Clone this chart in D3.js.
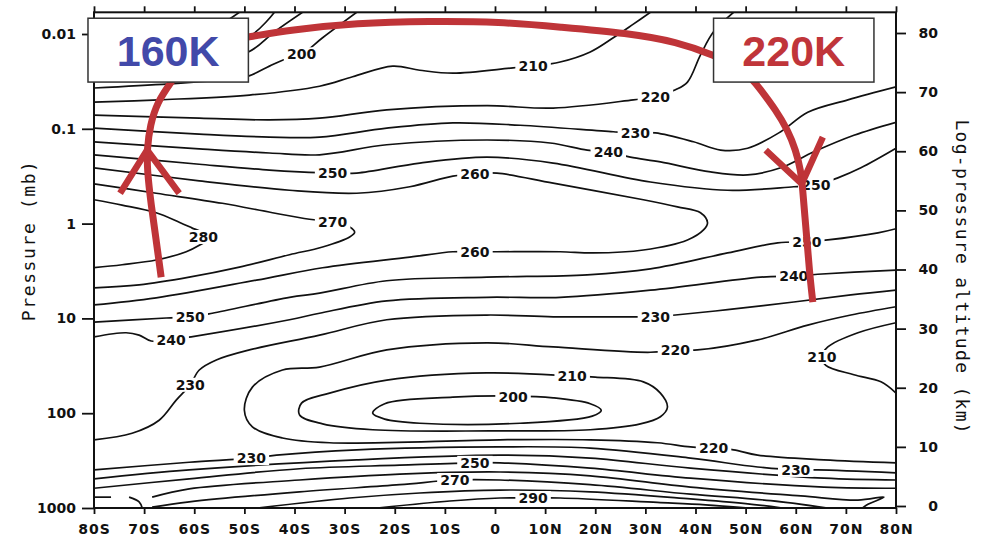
<!DOCTYPE html>
<html>
<head>
<meta charset="utf-8">
<script src="https://cdn.jsdelivr.net/npm/d3@7"></script>
<style>
  html, body { margin: 0; padding: 0; background: #fff; }
  svg { display: block; }
</style>
</head>
<body>
<svg id="chart" width="985" height="537"></svg>
<script>
// axes
const latTicks = [-80, -70, -60, -50, -40, -30, -20, -10, 0, 10, 20, 30, 40, 50, 60, 70, 80];
const pressureTicks = [0.01, 0.1, 1, 10, 100, 1000];
const pressureLabels = ["0.01", "0.1", "1", "10", "100", "1000"];
const kmTicks = [0, 10, 20, 30, 40, 50, 60, 70, 80];
const zTop = 83.5; // top of the frame, km

// isotherms as [latitude (S < 0), log-pressure altitude km]
const t170 = [[-80, 77.1], [-59, 79.7], [-51, 83.5]];
const t180 = [[-80, 75.1], [-63, 76.3], [-49.2, 79.3], [-44, 83.5]];
const t190 = [[-80, 72.9], [-63, 74.3], [-49.2, 76.8], [-44, 80.2], [-38.4, 83.5]];
const t200 = [[-80, 70.7], [-65, 71.4], [-53, 72.2], [-49.2, 72.7], [-45, 74.4], [-42.4, 75.4], [-38.6, 76.4], [-34.4, 79.2], [-27.6, 83.5]];
const t210 = [[-80, 68.3], [-67, 68.7], [-49, 69.5], [-35, 71.0], [-28.4, 72.6], [-20.4, 74.4], [-15, 73.7], [-8.4, 73.2], [3.6, 74.1], [7.6, 74.4], [13, 75.1], [19, 76.8], [23.6, 79.2], [27.6, 81.5], [31, 83.5]];
const t220 = [[-80, 66.1], [-59, 65.6], [-45, 65.3], [-35, 65.6], [-21.6, 67.0], [-1.6, 67.7], [11.6, 67.3], [27.6, 68.7], [32, 69.2], [36, 70.4], [38.4, 71.7], [41, 76.3], [43.6, 80.2], [47.6, 83.5]];
const t230 = [[-80, 63.9], [-59, 62.9], [-45, 62.4], [-35, 62.4], [-21.6, 63.9], [-8.4, 64.8], [5, 64.4], [23.6, 63.3], [28, 63.1], [32, 63.1], [39.6, 61.6], [45, 60.2], [50.4, 60.5], [57, 63.3], [62.4, 66.6], [70.4, 68.7], [80, 70.9]];
const t240 = [[-80, 61.6], [-59, 60.4], [-45, 59.7], [-35, 59.4], [-21.6, 61.1], [-1.6, 61.9], [11, 61.4], [18.4, 60.2], [22.6, 59.9], [27, 59.0], [33, 58.2], [43, 56.5], [50.4, 56.0], [57, 57.2], [63.6, 59.9], [71.6, 62.7], [80, 64.9]];
const t250 = [[-80, 59.4], [-59, 57.8], [-45, 56.8], [-39, 56.5], [-32.4, 56.3], [-27.6, 56.3], [-15, 58.0], [-1.6, 59.0], [11.6, 58.0], [31, 54.8], [46.4, 53.4], [59.6, 54.0], [64, 54.3], [68.4, 55.5], [73, 57.2], [80, 60.5]];
const t260 = [[-80, 57.2], [-59, 55.0], [-41, 53.4], [-27.6, 52.9], [-17, 54.0], [-8.4, 55.8], [-4, 56.2], [0.4, 56.3], [11.6, 54.6], [29.6, 51.8], [36.4, 50.6], [41, 49.6], [42.4, 47.9], [41.6, 46.7], [38.4, 45.0], [29.6, 43.3], [19.6, 42.8], [13, 43.0], [0.4, 43.0], [-4, 43.0], [-8.4, 43.0], [-17, 42.1], [-34.4, 40.3], [-47.6, 38.2], [-67.6, 35.2], [-80, 34.0]];
const t270 = [[-80, 54.5], [-67.6, 52.9], [-54.4, 51.2], [-44.4, 49.6], [-37, 48.5], [-32.4, 48.0], [-29, 47.2], [-28, 46.3], [-29, 45.5], [-34.4, 43.8], [-41, 42.5], [-51, 40.4], [-61, 38.7], [-71, 37.4], [-80, 36.9]];
const t280 = [[-80, 51.8], [-74.4, 50.9], [-67.6, 49.6], [-63, 48.0], [-60.4, 47.0], [-56.6, 45.5], [-59, 44.1], [-61.6, 43.0], [-67.6, 41.6], [-74.4, 40.8], [-80, 40.3]];
const t250b = [[-80, 31.1], [-65.6, 31.8], [-60.8, 32.0], [-56.4, 32.6], [-41, 35.3], [-35, 36.0], [-21.6, 38.1], [-1.6, 38.7], [18.4, 39.1], [31, 40.1], [46.4, 42.8], [56.4, 44.5], [62.2, 44.7], [66.4, 45.0], [76.4, 46.2], [80, 46.9]];
const t240b = [[-80, 28.6], [-73.6, 29.3], [-71, 28.9], [-68.6, 27.9], [-64.6, 28.1], [-60.6, 28.6], [-41, 31.5], [-35, 32.6], [-21.6, 34.7], [-1.6, 35.3], [13, 35.3], [31, 36.5], [53, 38.7], [59.6, 38.9], [64.4, 39.2], [80, 39.9]];
const t230b = [[-80, 11.2], [-72.4, 12.3], [-67, 14.5], [-63.6, 17.9], [-60.8, 20.5], [-59, 23.0], [-55.6, 24.7], [-49, 26.4], [-35, 28.9], [-21.6, 31.5], [-1.6, 32.3], [11.6, 32.0], [27.6, 32.0], [32, 32.0], [36, 32.3], [46.4, 33.2], [59.6, 34.5], [71, 35.7], [80, 36.5]];
const t220b = [[80, 33.7], [71, 32.3], [62.4, 30.6], [52.4, 28.1], [40.4, 26.4], [36, 26.4], [31, 26.0], [11.6, 26.9], [-1.6, 27.6], [-21.6, 26.4], [-35, 23.5], [-42.4, 23.0], [-48.4, 20.1], [-50, 16.2], [-48.4, 13.4], [-42.4, 11.5], [-33, 10.7], [1, 11.2], [19, 11.2], [32.4, 10.7], [39, 10.0], [43.6, 9.8], [47.6, 9.5], [52.4, 8.6], [65.6, 7.8], [80, 7.3]];
const t210b = [[-33, 19.1], [-21.6, 21.3], [-1.6, 22.5], [15.4, 22.0], [20, 21.8], [29.6, 21.0], [33, 19.1], [34.4, 16.7], [33, 15.1], [29, 13.9], [19, 12.9], [-1, 12.7], [-24.4, 12.9], [-34.4, 13.9], [-39, 15.4], [-38.6, 17.4]];
const t200b = [[-24.4, 15.7], [-22, 17.3], [-8.4, 18.4], [3.6, 18.6], [11.6, 18.3], [19, 17.3], [21.2, 16.2], [19.4, 15.2], [5, 14.0], [-15, 14.0], [-22, 14.7]];
const t210c = [[80, 31.0], [72.4, 29.3], [66.4, 26.9], [65.2, 25.2], [66, 23.8], [71.6, 22.2], [77, 21.0], [80, 19.1]];
const t230c = [[-80, 6.1], [-61, 7.4], [-48.6, 8.1], [-43.6, 8.6], [-27.6, 9.5], [1, 10.0], [19, 9.8], [39, 8.1], [52.4, 6.6], [60, 6.1], [64.4, 6.1], [80, 5.6]];
const t240c = [[-80, 4.6], [-61, 6.1], [-27.6, 7.8], [1, 8.6], [19, 8.1], [39, 6.4], [65.6, 4.7], [80, 4.4]];
const t250c = [[-80, 3.0], [-61, 4.6], [-39, 6.3], [-19, 6.9], [-4, 7.3], [1, 7.3], [19, 6.4], [39, 4.7], [65.6, 3.2], [80, 3.0]];
const t260c = [[-68.4, 1.5], [-61, 2.9], [-39, 4.4], [-19, 5.4], [1, 5.75], [19, 5.1], [39, 3.2], [61, 1.7], [72.4, 1.0], [77.6, 1.5], [74.4, 0.3], [73.4, -0.3]];
const t260stub = [[-80, 1.5], [-76.6, 1.5]];
const t260hook = [[-73, 1.5], [-71, 0.7], [-70.4, -0.3]];
const t270c = [[-68.4, -0.2], [-61, 0.7], [-39, 2.4], [-19, 3.6], [-8, 4.4], [1, 4.4], [19, 3.6], [39, 2.0], [55, 0.9], [66, -0.3]];
const t280c = [[-47, -0.3], [-29, 1.35], [-15, 2.2], [1, 2.7], [19, 2.4], [39, 1.2], [50, 0.4], [57, -0.3]];
const t290c = [[-23, -0.3], [-9, 0.85], [1, 1.35], [7.6, 1.35], [13, 1.35], [32.4, 0.6], [42, 0.2], [50, -0.3]];

const openLines = [t170, t180, t190, t200, t210, t220, t230, t240, t250, t260, t270, t280,
  t250b, t240b, t230b, t220b, t210c, t230c, t240c, t250c, t260c, t260stub, t260hook, t270c, t280c, t290c];
const closedLines = [t210b, t200b];

// contour labels
const labelText = [200, 210, 220, 230, 240, 250, 260, 250, 270, 280, 260, 250, 240, 250, 240, 230, 230, 220, 210, 210, 200, 220, 230, 230, 250, 270, 290];
const labelLat = [-38.6, 7.6, 32, 28, 22.6, -32.4, -4, 64, -32.4, -58.2, -4, 62.2, 59.6, -60.8, -64.6, 32, -60.8, 36, 15.4, 65.2, 3.6, 43.6, -48.6, 60, -4, -8, 7.6];
const labelKm = [76.4, 74.4, 69.2, 63.1, 59.9, 56.3, 56.2, 54.3, 48.0, 45.5, 43.0, 44.7, 38.9, 32.0, 28.1, 32.0, 20.5, 26.4, 22.0, 25.2, 18.4, 9.8, 8.1, 6.1, 7.3, 4.4, 1.35];

// circulation arrows and boxes (lat, km)
const arrowTop = [[-52, 79.0], [-49.2, 79.3], [-41, 80.5], [-27.6, 81.7], [-13, 82.0], [1, 81.9], [13, 81.0], [26.4, 80.0], [36.4, 78.5], [43.6, 76.3], [50, 73.7], [53, 70.4], [56, 67.0], [58.4, 63.6], [60, 60.2], [61, 56.8], [61.4, 53.4], [61.8, 49.2], [62.4, 43.3], [62.8, 39.1], [63.4, 34.5]];
const arrowLeft = [[-66.6, 38.7], [-67.6, 45.0], [-68.6, 50.9], [-69.4, 56.8], [-69.4, 60.5], [-68.8, 64.4], [-67.4, 68.3], [-64.6, 71.7], [-63, 73.7]];
const headLeft = [[-74.8, 52.9], [-69.4, 60.2], [-63, 52.9]];
const headRight = [[54, 60.2], [61.2, 54.5], [65.4, 62.4]];
const boxNames = ["160K", "220K"];
const boxLat = [[-81.2, -49.2], [43.6, 75.6]];
const boxKm = [71.7, 82.5];
const boxColors = ["#4249a9", "#c0353a"];

const svg = d3.select("#chart");
const x = d3.scaleLinear().domain([-80, 80]).range([94, 896]);
const yP = d3.scaleLog().domain([1000, 0.01]).range([508, 34]);
const yZ = d3.scaleLinear().domain([0, 80]).range([506, 33]);
const plotTop = yZ(zTop), plotBottom = yP(1000);
const ink = "#111";

svg.append("clipPath").attr("id", "plot")
  .append("rect")
  .attr("x", x(-80)).attr("y", plotTop)
  .attr("width", x(80) - x(-80)).attr("height", plotBottom - plotTop);

// contours
const line = d3.line().x(d => x(d[0])).y(d => yZ(d[1])).curve(d3.curveCatmullRom.alpha(0.5));
const ring = d3.line().x(d => x(d[0])).y(d => yZ(d[1])).curve(d3.curveCatmullRomClosed.alpha(0.5));

const plot = svg.append("g").attr("clip-path", "url(#plot)")
  .attr("fill", "none").attr("stroke", ink).attr("stroke-width", 1.7);
plot.selectAll("path.open").data(openLines).join("path").attr("class", "open").attr("d", line);
plot.selectAll("path.closed").data(closedLines).join("path").attr("class", "closed").attr("d", ring);

// labels with a white gap behind them
const labels = svg.append("g")
  .attr("font-family", "DejaVu Sans, sans-serif").attr("font-weight", "bold").attr("font-size", 14);
labelText.forEach((t, i) => {
  const g = labels.append("g").attr("transform", `translate(${x(labelLat[i])},${yZ(labelKm[i])})`);
  const r = g.append("rect").attr("fill", "#fff");
  const txt = g.append("text").attr("text-anchor", "middle").attr("dy", "0.36em").attr("fill", ink).text(t);
  const w = txt.node().getBBox().width + 6;
  r.attr("x", -w / 2).attr("y", -7).attr("width", w).attr("height", 14);
});

// axes
const styleAxis = g => {
  g.select(".domain").remove();
  g.attr("font-family", "DejaVu Sans, sans-serif").attr("font-weight", "bold").attr("font-size", 14);
  g.selectAll("line").attr("stroke", ink).attr("stroke-width", 1.8);
  g.selectAll("text").attr("fill", ink);
};

svg.append("g").attr("transform", `translate(${x(-80)},0)`)
  .call(d3.axisLeft(yP).tickValues(pressureTicks).tickFormat((d, i) => pressureLabels[i]).tickSize(12).tickPadding(6))
  .call(styleAxis);

svg.append("g").attr("transform", `translate(0,${plotBottom})`)
  .call(d3.axisBottom(x).tickValues(latTicks)
    .tickFormat(d => d < 0 ? `${-d}S` : d > 0 ? `${d}N` : "0").tickSize(6).tickPadding(10))
  .call(styleAxis)
  .call(g => g.selectAll("text").attr("letter-spacing", 1));

svg.append("g").attr("transform", `translate(0,${plotTop})`)
  .call(d3.axisTop(x).tickValues(latTicks).tickFormat("").tickSize(6))
  .call(styleAxis);

svg.append("g").attr("transform", `translate(${x(80)},0)`)
  .call(d3.axisRight(yZ).tickValues(kmTicks).tickSize(10))
  .call(styleAxis)
  .call(g => g.selectAll("text").attr("text-anchor", "end").attr("x", 42));

svg.append("rect")
  .attr("x", x(-80)).attr("y", plotTop)
  .attr("width", x(80) - x(-80)).attr("height", plotBottom - plotTop)
  .attr("fill", "none").attr("stroke", ink).attr("stroke-width", 2);

// axis titles
svg.append("text")
  .attr("transform", `translate(29,${yP(1.5)}) rotate(-90)`)
  .attr("text-anchor", "middle").attr("dy", "0.35em")
  .attr("font-family", "DejaVu Sans Mono, monospace").attr("font-size", 18).attr("letter-spacing", 1.6)
  .attr("fill", ink).text("Pressure (mb)");

svg.append("text")
  .attr("transform", `translate(962,${yZ(38.7)}) rotate(90)`)
  .attr("text-anchor", "middle").attr("dy", "0.35em")
  .attr("font-family", "DejaVu Sans Mono, monospace").attr("font-size", 18).attr("letter-spacing", 1.3)
  .attr("fill", ink).text("Log-pressure altitude (km)");

// circulation arrows
const red = "#bf3438";
const straight = d3.line().x(d => x(d[0])).y(d => yZ(d[1]));
const smooth = d3.line().x(d => x(d[0])).y(d => yZ(d[1])).curve(d3.curveBasis);
const arrows = svg.append("g").attr("fill", "none").attr("stroke", red).attr("stroke-width", 7);
arrows.append("path").attr("d", smooth(arrowTop));
arrows.append("path").attr("d", smooth(arrowLeft));
arrows.append("path").attr("d", straight(headLeft)).attr("stroke-width", 6.5);
arrows.append("path").attr("d", straight(headRight)).attr("stroke-width", 6.5);

// temperature boxes
boxNames.forEach((name, i) => {
  const [a, b] = boxLat[i];
  svg.append("rect")
    .attr("x", x(a)).attr("y", yZ(boxKm[1]))
    .attr("width", x(b) - x(a)).attr("height", yZ(boxKm[0]) - yZ(boxKm[1]))
    .attr("fill", "#fff").attr("stroke", "#333").attr("stroke-width", 1.5);
  svg.append("text")
    .attr("x", (x(a) + x(b)) / 2).attr("y", (yZ(boxKm[0]) + yZ(boxKm[1])) / 2)
    .attr("dy", "0.36em").attr("text-anchor", "middle")
    .attr("font-family", "Liberation Sans, Arial, sans-serif").attr("font-weight", "bold").attr("font-size", 43)
    .attr("fill", boxColors[i]).text(name);
});
</script>
</body>
</html>
